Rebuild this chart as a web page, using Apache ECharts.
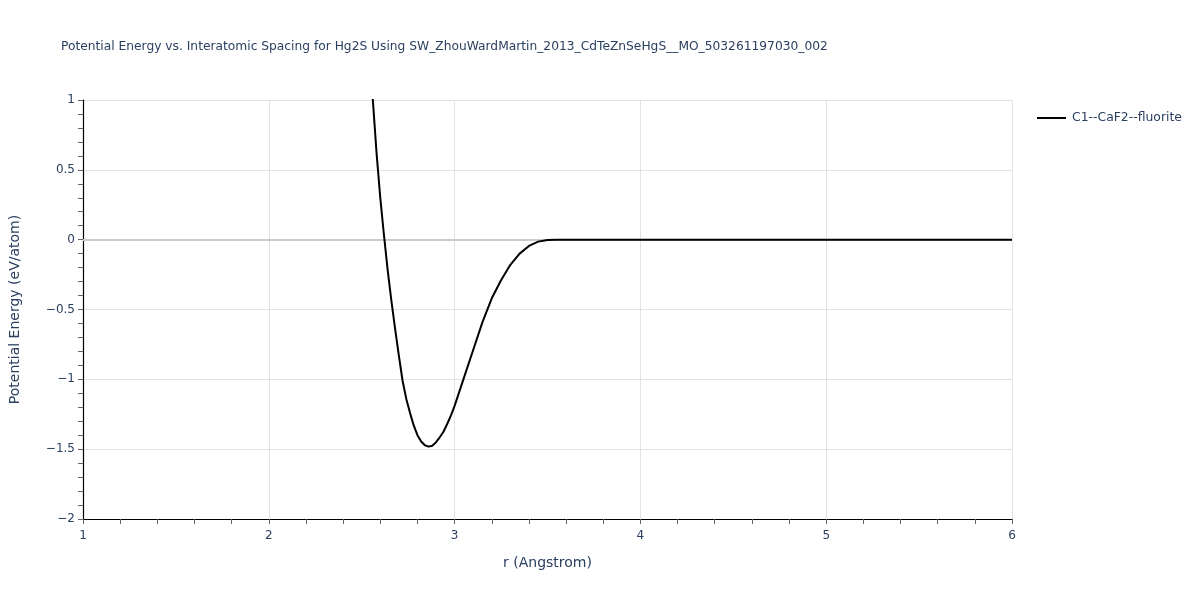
<!DOCTYPE html>
<html>
<head>
<meta charset="utf-8">
<script src="https://cdn.jsdelivr.net/npm/echarts@6/dist/echarts.min.js"></script>
<style>html,body{margin:0;padding:0;background:#fff}#c{width:1200px;height:600px}</style>
</head>
<body>
<div id="c"></div>
<script>
const titleText = 'Potential Energy vs. Interatomic Spacing for Hg2S Using SW_ZhouWardMartin_2013_CdTeZnSeHgS__MO_503261197030_002';
const seriesName = 'C1--CaF2--fluorite';
const xLabel = 'r (Angstrom)';
const yLabel = 'Potential Energy (eV/atom)';
const rValues = [2.55,2.56,2.58,2.60,2.62,2.64,2.66,2.68,2.70,2.72,2.74,2.76,2.78,2.80,2.82,2.84,2.86,2.88,2.90,2.92,2.94,2.96,2.98,3.00,3.05,3.10,3.15,3.20,3.25,3.30,3.35,3.40,3.45,3.50,3.55,3.60,3.80,4.00,4.20,4.40,4.60,4.80,5.00,5.20,5.40,5.60,5.80,6.00];
const energyValues = [1.2,1.0,0.62,0.30,0.03,-0.22,-0.44,-0.64,-0.83,-1.01,-1.14,-1.24,-1.33,-1.40,-1.445,-1.472,-1.482,-1.475,-1.45,-1.415,-1.375,-1.32,-1.26,-1.19,-0.99,-0.79,-0.59,-0.42,-0.29,-0.18,-0.10,-0.045,-0.014,-0.002,0,0,0,0,0,0,0,0,0,0,0,0,0,0];
const xTicks = {min: 1, max: 6, interval: 1};
const yTicks = {min: -2, max: 1, interval: 0.5};

const txt = '#2a3f5f';
const font = '"DejaVu Sans", Verdana, sans-serif';
const chart = echarts.init(document.getElementById('c'), null, {renderer: 'canvas'});
chart.setOption({
  animation: false,
  backgroundColor: '#fff',
  title: {text: titleText, left: 56, top: 36, textStyle: {fontSize: 12.25, fontWeight: 'normal', color: txt, fontFamily: font}},
  legend: {
    left: 1032, top: 107, orient: 'vertical', itemWidth: 29, itemHeight: 2, itemGap: 10,
    icon: 'rect',
    textStyle: {fontSize: 12.4, color: txt, fontFamily: font, padding: [0,0,0,1]},
    data: [{name: seriesName, itemStyle: {color: '#000'}}]
  },
  grid: {left: 80, right: 188, top: 100, bottom: 81, containLabel: false},
  xAxis: {
    type: 'value', min: xTicks.min, max: xTicks.max, interval: xTicks.interval,
    name: xLabel, nameLocation: 'middle', nameGap: 37,
    nameTextStyle: {fontSize: 14, color: txt, fontFamily: font},
    axisLine: {show: true, onZero: false, lineStyle: {color: '#000', width: 1.2}},
    axisTick: {show: true, length: 5, lineStyle: {color: '#666'}},
    minorTick: {show: true, splitNumber: 5, length: 5, lineStyle: {color: '#666'}},
    axisLabel: {fontSize: 12, color: txt, fontFamily: font, margin: 11},
    splitLine: {show: true, lineStyle: {color: '#e2e2e2', width: 1}}
  },
  yAxis: {
    type: 'value', min: yTicks.min, max: yTicks.max, interval: yTicks.interval,
    name: yLabel, nameLocation: 'middle', nameGap: 61, nameRotate: 90,
    nameTextStyle: {fontSize: 14, color: txt, fontFamily: font},
    axisLine: {show: true, onZero: false, lineStyle: {color: '#000', width: 1.2}},
    axisTick: {show: true, length: 5, lineStyle: {color: '#666'}},
    minorTick: {show: true, splitNumber: 5, length: 5, lineStyle: {color: '#666'}},
    axisLabel: {fontSize: 12, color: txt, fontFamily: font, margin: 8,
      formatter: v => v < 0 ? '\u2212' + Math.abs(v) : String(v)},
    splitLine: {show: true, lineStyle: {color: '#e2e2e2', width: 1}}
  },
  series: [{
    name: seriesName, type: 'line', showSymbol: false, symbol: 'none', clip: true,
    data: rValues.map((r, i) => [r, energyValues[i]]),
    lineStyle: {color: '#000', width: 2},
    itemStyle: {color: '#000'},
    smooth: false,
    z: 3,
    markLine: {silent: true, symbol: 'none', label: {show: false}, z: 1,
      lineStyle: {color: '#cccccc', width: 2, type: 'solid'},
      data: [{yAxis: 0}]}
  }]
});
</script>
</body>
</html>
